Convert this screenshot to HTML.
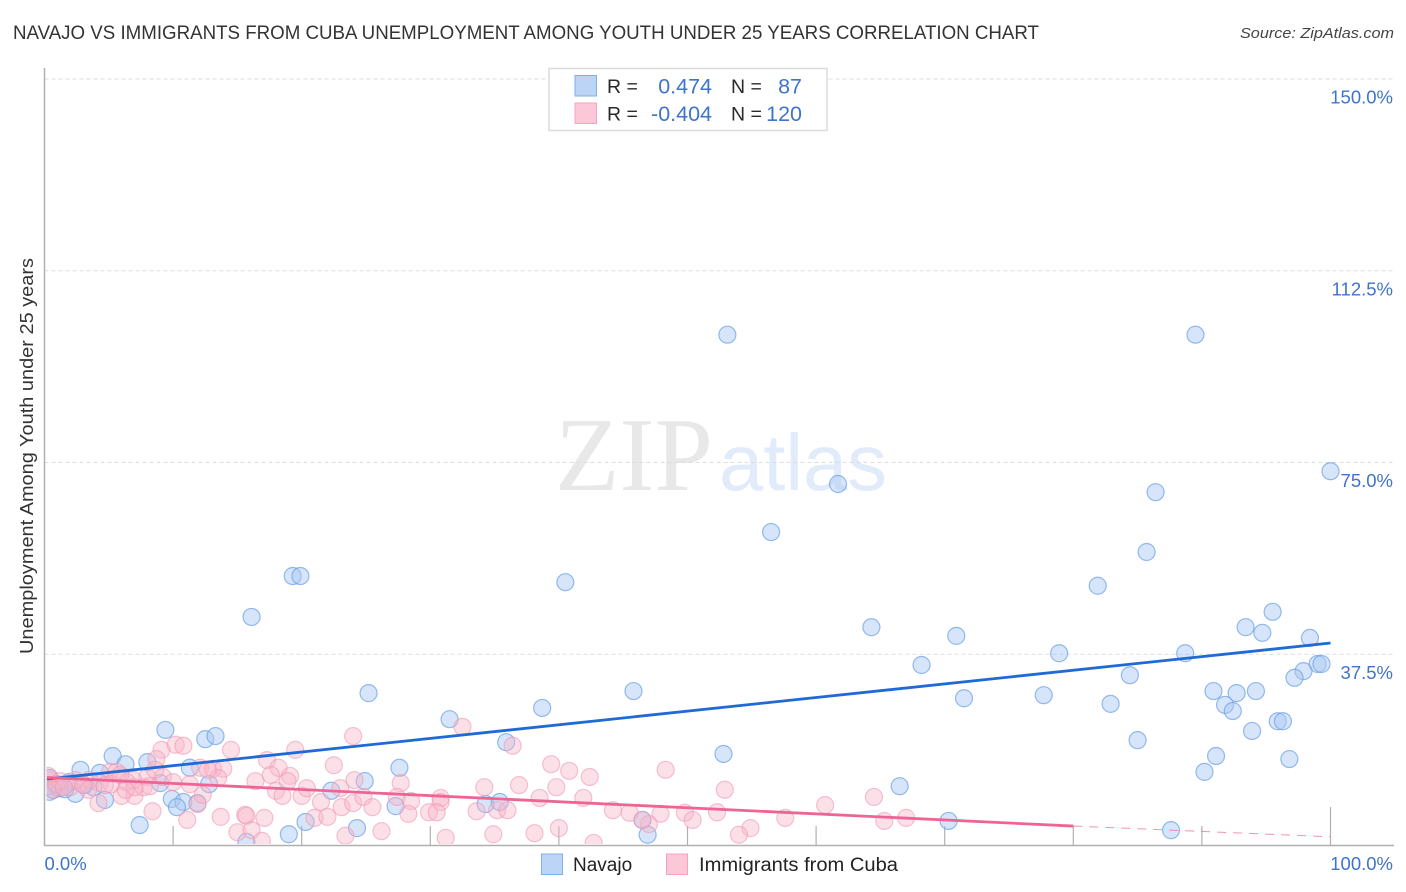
<!DOCTYPE html>
<html lang="en">
<head>
<meta charset="utf-8">
<title>Navajo vs Immigrants from Cuba Unemployment Correlation Chart</title>
<style>
html,body{margin:0;padding:0;background:#fff;width:1406px;height:892px;overflow:hidden}
svg{display:block}
text{font-family:"Liberation Sans",sans-serif}
.tick{fill:#3f74cc;font-size:18.5px}
.leg{fill:#2a2a2a;font-size:19.5px}
.val{fill:#3f74cc;font-size:21.5px}
</style>
</head>
<body>
<svg id="chart" width="1406" height="892" viewBox="0 0 1406 892">
  <defs>
    <clipPath id="plot-clip"><rect x="46.5" y="60" width="1300" height="784"></rect></clipPath>
  </defs>
  <text x="13" y="39" font-size="19" fill="#333" textLength="1026" lengthAdjust="spacingAndGlyphs">NAVAJO VS IMMIGRANTS FROM CUBA UNEMPLOYMENT AMONG YOUTH UNDER 25 YEARS CORRELATION CHART</text>
  <text x="1394" y="38" font-size="15" font-style="italic" fill="#444" text-anchor="end" textLength="154" lengthAdjust="spacingAndGlyphs">Source: ZipAtlas.com</text>

  <g>
    <text x="555" y="490" style="font-family:'Liberation Serif',serif" font-size="105" fill="#e8e8e8" textLength="158" lengthAdjust="spacingAndGlyphs">ZIP</text>
    <text x="719" y="490" font-size="80" fill="#e2ebfa" textLength="168" lengthAdjust="spacingAndGlyphs">atlas</text>
  </g>

  <g id="grid"></g>
  <g id="axes"></g>
  <g id="points" clip-path="url(#plot-clip)"></g>
  <g id="trends"></g>

  <text x="33" y="456" font-size="18.5" fill="#333" text-anchor="middle" transform="rotate(-90 33 456)" textLength="396" lengthAdjust="spacingAndGlyphs">Unemployment Among Youth under 25 years</text>

  <g>
    <rect x="549" y="68.5" width="278" height="62" fill="#fff" stroke="#dcdcdc" stroke-width="1.5"></rect>
    <rect x="575" y="75.5" width="21.5" height="20.5" fill="#bcd5f6" stroke="#7fb0ea" stroke-width="1"></rect>
    <rect x="575" y="103" width="21.5" height="20.5" fill="#fcc8d8" stroke="#f5a3bd" stroke-width="1"></rect>
    <text class="leg" x="607" y="93">R =</text>
    <text class="val" x="712" y="93.5" text-anchor="end">0.474</text>
    <text class="leg" x="731" y="93">N =</text>
    <text class="val" x="802" y="93.5" text-anchor="end">87</text>
    <text class="leg" x="607" y="120.5">R =</text>
    <text class="val" x="712" y="121" text-anchor="end">-0.404</text>
    <text class="leg" x="731" y="120.5">N =</text>
    <text class="val" x="802" y="121" text-anchor="end">120</text>
  </g>

  <g>
    <g>
      <rect x="541.5" y="854" width="21" height="20.5" fill="#bcd5f6" stroke="#7fb0ea" stroke-width="1"></rect>
      <text x="573" y="871" font-size="19" fill="#222">Navajo</text>
    </g>
    <g>
      <rect x="666.5" y="854" width="21" height="20.5" fill="#fcc8d8" stroke="#f5a3bd" stroke-width="1"></rect>
      <text x="699" y="871" font-size="19" fill="#222" textLength="199" lengthAdjust="spacingAndGlyphs">Immigrants from Cuba</text>
    </g>
  </g>
</svg>
<script>
const yTickValues = [37.5, 75, 112.5, 150];
const yTickLabels = ["37.5%", "75.0%", "112.5%", "150.0%"];
const xTickValues = [10, 20, 30, 40, 50, 60, 70, 80, 90, 100];
const xEndLabels = ["0.0%", "100.0%"];

const navajoX = [53.1,89.5,100,61.7,86.4,56.5,85.7,19.3,19.9,40.5,81.9,16.1,95.5,64.3,93.4,94.7,70.9,98.4,78.9,88.7,68.2,99,99.3,97.9,97.2,84.4,25.2,45.8,90.9,92.7,94.2,77.7,71.5,82.9,91.8,92.4,38.7,31.5,9.4,95.9,96.3,93.9,12.5,13.3,85,35.9,52.8,91.1,5.3,96.8,8,6.3,90.2,2.8,27.6,11.3,24.9,66.5,22.3,4.3,9,12.8,9.9,10.8,10.3,11.9,4.7,2.4,27.3,34.3,35.4,7.4,20.3,24.3,19,15.7,70.3,46.5,46.9,87.6,1.9,3.8,0.7,1.2,0.4,0.3,3.1,1.6,0.4,0.9];
const navajoY = [100,100,73.3,70.8,69.2,61.4,57.5,52.8,52.8,51.6,50.9,44.8,45.8,42.8,42.8,41.7,41.1,40.7,37.7,37.7,35.4,35.6,35.6,34.2,32.9,33.4,29.9,30.3,30.3,29.9,30.3,29.5,28.9,27.8,27.6,26.4,27,24.8,22.7,24.4,24.4,22.5,20.9,21.5,20.7,20.3,18,17.6,17.6,17,16.4,16,14.5,14.9,15.3,15.3,12.7,11.7,10.8,14.3,12.3,12.1,9.2,8.6,7.6,8.4,9,10.2,7.8,8.2,8.6,4.1,4.7,3.5,2.3,0.8,4.9,5.1,2.2,3.1,12.5,11.5,11,11.3,13.3,11.7,11.9,11.1,10.6,12.1];

const cubaX = [9.1,10.2,10.8,14.5,17.3,19.5,18.2,22.5,8.7,12.1,13.1,13.9,16.4,17.6,19.1,18.9,18,18.5,20,20.4,21.5,23,23.1,24,24.1,24,21,22,23.4,8.4,11.1,13.7,15.6,15.7,17.1,15,16.1,16.9,6,7,4.2,11.9,12.3,7.7,9.2,6.4,10,11.3,5.1,5.6,13.5,12.7,8,6.9,4.3,2.8,2,1,0.4,0.3,3.5,5.2,8.2,32.5,36.4,39.4,40.8,42.4,48.3,27.7,34.2,36.9,39.8,38.5,41.9,24.8,25.5,27.4,28.5,28.3,30.8,30.8,29.9,30.5,33.6,35.2,36,44.2,45.5,47,47.9,49.8,50.4,26.2,31.2,34.9,38.1,40,42.7,46.5,52.9,52.3,54.9,54,57.6,60.7,64.5,65.3,67,5.9,7,8.6,1.2,2.4,6.3,3.4,4.7,0.6,1.5,3];
const cubaY = [18.8,19.8,19.6,18.8,16.8,18.8,15.3,15.8,17,15.3,15.1,15.1,12.7,13.9,13.7,12.7,10.8,9.8,9.8,11.3,8.6,11.3,7.6,8.4,12.9,21.5,5.5,5.7,2,6.8,5.1,5.7,6.1,5.9,5.5,2.7,3.1,1,9.8,9.8,8.4,8.2,10,11.5,13.5,12.5,12.5,12.1,14.5,14.5,13.3,14.9,13.5,12.9,12.3,12.3,11.5,11.5,12.9,13.7,12.9,12.1,11.7,23.3,19.6,16,14.7,13.5,14.9,12.3,11.5,11.9,11.5,9.4,9.4,9.6,7.6,9.6,8.8,6.3,9.4,8.6,6.6,6.6,6.8,7,7,7,6.5,4.3,6.3,6.5,5.1,2.9,1.6,2.3,2.5,3.5,0.6,5.1,11,6.6,3.5,2.2,5.5,8,9.6,4.9,5.5,13.9,11.5,14.9,12.7,12.9,11,11,11.9,11,11.5,12];

const navajoTrendX = [0, 100];
const navajoTrendY = [13.1, 39.7];
const cubaTrendX = [0, 80];
const cubaTrendY = [13.4, 3.9];
const cubaDashX = [80, 100];
const cubaDashY = [3.9, 1.8];

const NS = "http://www.w3.org/2000/svg";
const xPos = v => 44.5 + v * 12.86;
const yPos = v => 846 - v * 5.113;

function make(tag, attrs, parent) {
  const el = document.createElementNS(NS, tag);
  for (const k in attrs) el.setAttribute(k, attrs[k]);
  parent.appendChild(el);
  return el;
}

const grid = document.getElementById("grid");
const axes = document.getElementById("axes");
const points = document.getElementById("points");
const trends = document.getElementById("trends");

yTickValues.forEach((v, i) => {
  const line = make("line", {x1: 44.5, x2: 1394, y1: yPos(v), y2: yPos(v), stroke: "#dddddd", "stroke-width": 1, "stroke-dasharray": "4 3"}, grid);
  
  
  const label = make("text", {x: 1393, y: yPos(v) + 24.5, "text-anchor": "end", class: "tick"}, axes);
  label.textContent = yTickLabels[i];
  
  
});

const yAxis = make("line", {x1: 44.5, x2: 44.5, y1: 68, y2: 846, stroke: "#b0b0b0", "stroke-width": 1.5}, axes);


const xAxis = make("line", {x1: 44, x2: 1394, y1: 845.5, y2: 845.5, stroke: "#b0b0b0", "stroke-width": 1.5}, axes);



xTickValues.forEach(v => {
  const top = v === 100 ? 807 : 826;
  const tick = make("line", {x1: xPos(v), x2: xPos(v), y1: top, y2: 846, stroke: "#b0b0b0", "stroke-width": 1.2}, axes);
  
  
});

const xStart = make("text", {x: 44.5, y: 870, class: "tick"}, axes);
xStart.textContent = xEndLabels[0];


const xEnd = make("text", {x: 1393, y: 870, "text-anchor": "end", class: "tick"}, axes);
xEnd.textContent = xEndLabels[1];



navajoX.forEach((v, i) => {
  const c = make("circle", {cx: xPos(v), cy: yPos(navajoY[i]), r: 8.5, fill: "#a9c9f3", "fill-opacity": 0.48, stroke: "#6a9fe4", "stroke-opacity": 0.7, "stroke-width": 1.2}, points);
  
  
});
cubaX.forEach((v, i) => {
  const c = make("circle", {cx: xPos(v), cy: yPos(cubaY[i]), r: 8.5, fill: "#f9b4c9", "fill-opacity": 0.42, stroke: "#f09ab6", "stroke-opacity": 0.6, "stroke-width": 1.2}, points);
  
  
});

const navajoLine = make("line", {x1: xPos(navajoTrendX[0]) + 2.5, x2: xPos(navajoTrendX[1]), y1: yPos(navajoTrendY[0]), y2: yPos(navajoTrendY[1]), stroke: "#1f6ad6", "stroke-width": 2.8}, trends);


const cubaLine = make("line", {x1: xPos(cubaTrendX[0]) + 2.5, x2: xPos(cubaTrendX[1]), y1: yPos(cubaTrendY[0]), y2: yPos(cubaTrendY[1]), stroke: "#ee6595", "stroke-width": 2.8}, trends);


const cubaDash = make("line", {x1: xPos(cubaDashX[0]), x2: xPos(cubaDashX[1]), y1: yPos(cubaDashY[0]), y2: yPos(cubaDashY[1]), stroke: "#ee6595", "stroke-opacity": 0.7, "stroke-width": 1, "stroke-dasharray": "9 7"}, trends);


</script>
</body>
</html>
